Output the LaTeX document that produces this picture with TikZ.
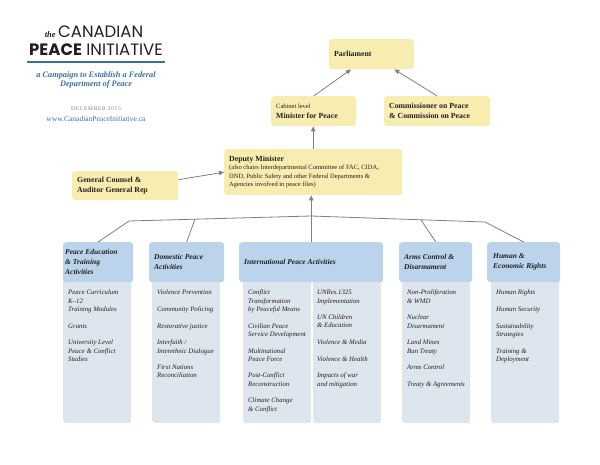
\documentclass[tikz,border=0pt]{standalone}
\usepackage{fontspec}
\setmainfont{Liberation Serif}
\newfontfamily\titlefont{Poppins}
\usetikzlibrary{arrows.meta, calc}

\definecolor{boxyellow}{HTML}{F8EDB0}
\definecolor{headblue}{HTML}{BBD4EC}
\definecolor{bodyblue}{HTML}{DDE6EE}
\definecolor{linegray}{HTML}{808080}
\definecolor{cpiblue}{HTML}{3B6EA5}
\definecolor{inkdark}{HTML}{231F20}

\tikzset{
  ybox/.style={fill=boxyellow, rounded corners=3pt, anchor=north west, align=flush left, inner xsep=5pt, inner ysep=0pt, text=inkdark, font=\fontsize{7.8}{10}\selectfont\bfseries},
  hbox/.style={fill=headblue, rounded corners=3pt, anchor=north west, align=flush left, inner xsep=5pt, inner ysep=0pt, minimum height=40pt, text=inkdark, font=\fontsize{7.5}{10}\selectfont\bfseries\itshape},
  bbox/.style={fill=bodyblue, rounded corners=3pt, anchor=north west, inner sep=0pt, minimum width=68pt, minimum height=153pt},
  items/.style={anchor=north west, align=left, inner sep=0pt, text=inkdark, font=\fontsize{6.8}{8.3}\selectfont\itshape},
  link/.style={draw=linegray, line width=0.8pt},
  arr/.style={link, -{Triangle[length=5pt, width=4.5pt]}},
}
\newcommand{\gap}{\\[8.3pt]}

\begin{document}
\begin{tikzpicture}[x=1pt, y=-1pt]
    \useasboundingbox (0,0) rectangle (600,464);

    % Title block
    \node[anchor=base, text=inkdark, inner sep=0pt] (title1) at (94,37.5) {{\fontsize{8.5}{8.5}\selectfont\bfseries\itshape the} {\titlefont\fontsize{16.5}{16.5}\selectfont CANADIAN}};
    \node[anchor=base, text=inkdark, inner sep=0pt] (title2) at (96,55) {\titlefont\fontsize{16.5}{16.5}\selectfont{\bfseries PEACE} INITIATIVE};
    \draw[cpiblue, line width=1.2pt] (27,62) -- (165,62);
    \node[text=cpiblue, align=center, font=\fontsize{8.3}{9.5}\selectfont\bfseries\itshape] (campaign) at (96,80) {a Campaign to Establish a Federal\\Department of Peace};
    \node[text=gray, font=\fontsize{5.5}{6}\selectfont\addfontfeatures{LetterSpace=12}] (date) at (96,109) {DECEMBER 2015};
    \node[text=cpiblue, font=\fontsize{7.5}{8}\selectfont] (web) at (96,118.5) {www.CanadianPeaceInitiative.ca};

    % Top of the chart
    \node[ybox, text width=75pt, minimum height=30pt] (parl) at (329,39) {Parliament};
    \node[ybox, text width=75pt, minimum height=30pt, font=\fontsize{7.8}{9.5}\selectfont\bfseries] (min) at (271,96) {{\fontsize{6.5}{9}\selectfont\mdseries Cabinet level}\\Minister for Peace};
    \node[ybox, text width=96pt, minimum height=30pt] (com) at (384,96) {Commissioner on Peace\\\& Commission on Peace};
    \node[ybox, text width=168pt, minimum height=46pt, font=\fontsize{7.8}{8.5}\selectfont\bfseries] (dep) at (224,149) {Deputy Minister\\{\fontsize{6.5}{8.5}\selectfont\mdseries (also chairs Interdepartmental Committee of FAC, CIDA,\\DND, Public Safety and other Federal Departments \&\\Agencies involved in peace files)}};
    \node[ybox, text width=96pt, minimum height=29pt, font=\fontsize{7.8}{10.5}\selectfont\bfseries] (gen) at (72,171) {General Counsel \&\\Auditor General Rep};

    % Bodies
    \node[bbox] (peb) at (63,270) {};
    \node[bbox] (domb) at (152,270) {};
    \node[bbox] (intlbl) at (243,270) {};
    \node[bbox] (intlbr) at (313,270) {};
    \node[bbox] (armsb) at (402,270) {};
    \node[bbox] (humb) at (491,270) {};

    % Headers
    \node[hbox, inner xsep=2pt, text width=66pt] (pe) at (63,242) {Peace Education\\\& Training\\Activities};
    \node[hbox, text width=65pt] (dom) at (149,242) {Domestic Peace\\Activities};
    \node[hbox, text width=134pt] (intl) at (239,242) {International Peace Activities};
    \node[hbox, text width=63pt] (arms) at (399,242) {Arms Control \&\\Disarmament};
    \node[hbox, inner xsep=6pt, text width=61pt] (hum) at (487,242) {Human \&\\Economic Rights};

    % Items
    \node[items] (pei) at (68,290) {Peace Curriculum\\K--12\\Training Modules\gap Grants\gap University Level\\Peace \& Conflict\\Studies};
    \node[items] (domi) at (157,290) {Violence Prevention\gap Community Policing\gap Restorative justice\gap Interfaith /\\Interethnic Dialogue\gap First Nations\\Reconciliation};
    \node[items] (intlil) at (248,290) {Conflict\\Transformation\\by Peaceful Means\gap Civilian Peace\\Service Development\gap Multinational\\Peace Force\gap Post-Conflict\\Reconstruction\gap Climate Change\\\& Conflict};
    \node[items] (intlir) at (317,290) {UNRes.1325\\Implementation\gap UN Children\\\& Education\gap Violence \& Media\gap Violence \& Health\gap Impacts of war\\and mitigation};
    \node[items] (armsi) at (407,290) {Non-Proliferation\\\& WMD\gap Nuclear\\Disarmament\gap Land Mines\\Ban Treaty\gap Arms Control\gap Treaty \& Agreements};
    \node[items] (humi) at (496,290) {Human Rights\gap Human Security\gap Sustainability\\Strategies\gap Training \&\\Deployment};

    % Connectors
    \coordinate (apex) at ($(intl.north)+(0,-26)$);
    \coordinate (kpe) at (129,221);
    \coordinate (kdom) at (195,219);
    \coordinate (karms) at (421,220);
    \coordinate (khum) at (485,222);
    \draw[link] (pe.north) -- (kpe) -- (apex) -- (khum) -- (hum.north);
    \draw[link] (dom.north) -- (kdom);
    \draw[link] (arms.north) -- (karms);
    \draw[arr] (intl.north) -- (intl.north |- dep.south);
    \draw[arr] (dep.north) -- (dep.north |- min.south);
    \draw[arr] ($(gen.east)+(0,-6)$) -- (dep.west);
    \draw[arr] (min.north) -- ($(parl.south west)+(22,0)$);
    \draw[arr] (com.north) -- ($(parl.south east)+(-20,0)$);
\end{tikzpicture}
\end{document}
